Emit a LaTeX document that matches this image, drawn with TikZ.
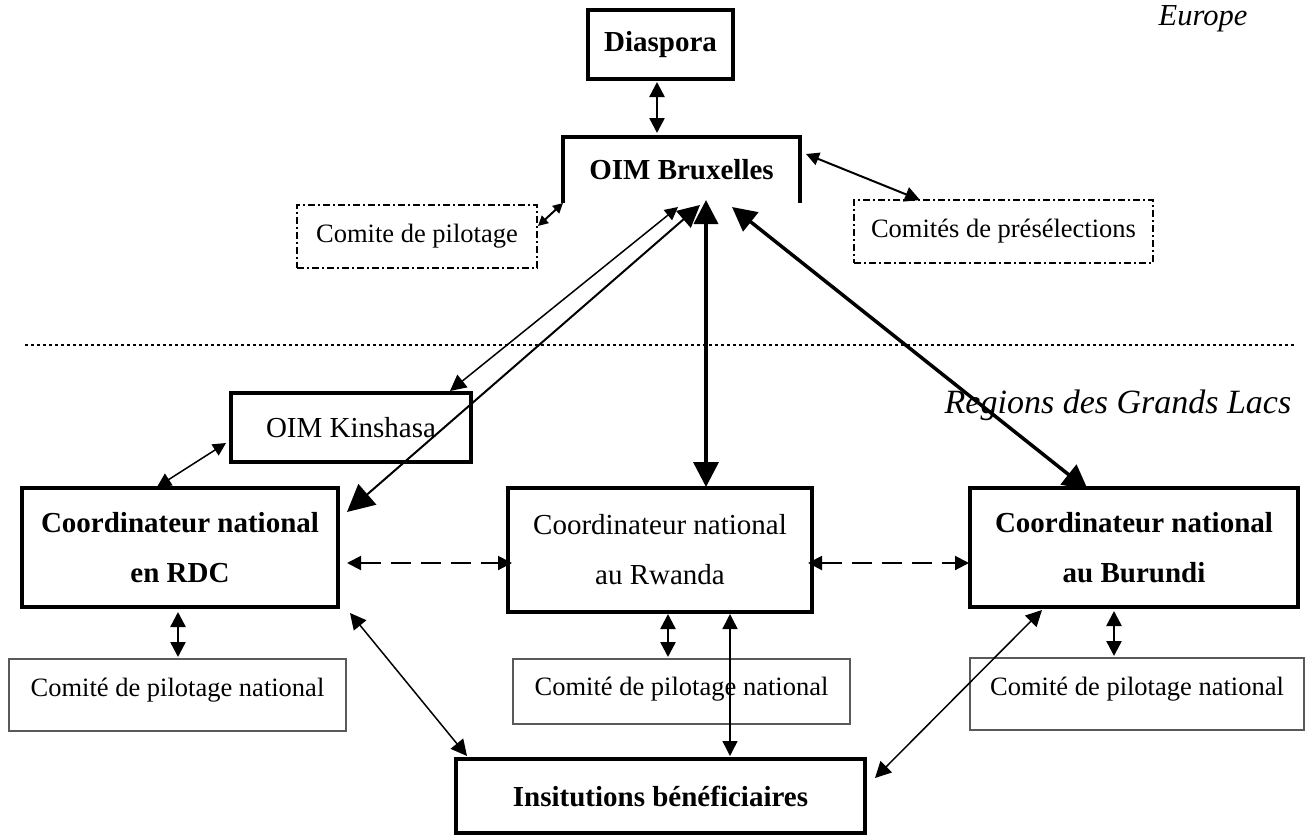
\documentclass[tikz,border=0pt]{standalone}
\usepackage{fontspec}
\setmainfont{Liberation Serif}
\usetikzlibrary{arrows.meta,calc}
\begin{document}
\begin{tikzpicture}[x=1pt,y=-1pt,
  box/.style={draw,line width=4pt,inner sep=0pt,outer sep=0pt,align=center,font=\fontsize{29}{50}\selectfont},
  bbox/.style={box,font=\bfseries\fontsize{29}{50}\selectfont},
  dashbox/.style={draw,line width=2pt,inner sep=0pt,outer sep=0pt,dash pattern=on 7pt off 3pt on 2pt off 3pt,font=\fontsize{26.5}{30}\selectfont},
  combox/.style={draw=black!65,line width=1.5pt,inner sep=0pt,outer sep=0pt,font=\fontsize{26.5}{30}\selectfont,text height=18pt,text depth=15pt},
  region/.style={font=\itshape\fontsize{30.5}{34}\selectfont,inner sep=0pt},
  dbl/.style 2 args={{Triangle[length=#1,width=#1]}-{Triangle[length=#2,width=#2]}}
]
\useasboundingbox (0,0) rectangle (1306,835);

% nodes
\node[bbox,minimum width=145pt,minimum height=69pt] (dia) at (660.5,44.5) {Diaspora};
\node[inner sep=0pt,outer sep=0pt,minimum width=237pt,minimum height=66pt,font=\bfseries\fontsize{29}{34}\selectfont] (brux) at (681.5,170) {OIM Bruxelles};
\draw[line width=4pt] (brux.south west) -- (brux.north west) -- (brux.north east) -- (brux.south east);
\node[dashbox,minimum width=240pt,minimum height=63pt] (pil) at (417,236) {Comite de pilotage};
\node[dashbox,minimum width=299pt,minimum height=63pt] (presel) at (1003.5,231.5) {Comités de présélections};
\node[box,minimum width=240pt,minimum height=69pt] (kin) at (351,427.5) {OIM Kinshasa};
\node[bbox,minimum width=316pt,minimum height=119pt] (rdc) at (180,547.5) {Coordinateur national\\en RDC};
\node[box,minimum width=304pt,minimum height=124pt] (rw) at (660,550) {Coordinateur national\\au Rwanda};
\node[bbox,minimum width=328pt,minimum height=119pt] (bur) at (1134,547.5) {Coordinateur national\\au Burundi};
\node[combox,minimum width=337pt,minimum height=72pt] (cl) at (177.5,695) {Comité de pilotage national};
\node[combox,minimum width=337pt,minimum height=65pt,text depth=10pt] (cm) at (681.5,691.5) {Comité de pilotage national};
\node[combox,minimum width=334pt,minimum height=72pt] (cr) at (1137,694) {Comité de pilotage national};
\node[bbox,minimum width=409pt,minimum height=74pt] (inst) at (660.5,796) {Insitutions bénéficiaires};

\node[region] (eu) at (1203,19) {Europe};
\node[region,font=\itshape\fontsize{34}{38}\selectfont] (gl) at (1118,405) {Regions des Grands Lacs};

% separator
\draw[line width=2pt,dash pattern=on 2.5pt off 3.5pt] (25,345) -- (1295,345);

% connectors
\draw[line width=2.5pt,dbl={15pt}{15pt}] ($(dia.south)+(-3.5,3)$) -- ($(brux.north)+(-24.5,-4)$);
\draw[line width=2pt,dbl={10pt}{10pt}] (brux.south west) -- ($(pil.east)+(1,-10)$);
\draw[line width=2pt,dbl={13pt}{15pt}] ($(brux.east)+(6,-16)$) -- ($(presel.north west)+(66,0)$);
\draw[line width=1.5pt,dbl={13pt}{16pt}] ($(brux.south)+(-3.5,4)$) -- ($(kin.north east)+(-21,-2)$);
\draw[line width=2pt,dbl={22pt}{27pt}] ($(brux.south)+(18.5,2)$) -- ($(rdc.north east)+(9,24)$);
\draw[line width=3.5pt,dbl={24pt}{25pt}] ($(brux.south)+(24.5,-3)$) -- ($(rw.north)+(46,-1)$);
\draw[line width=3.5pt,dbl={24pt}{25pt}] ($(brux.south)+(50.5,4)$) -- ($(bur.north)+(-46,2)$);
\draw[line width=1.5pt,dbl={13pt}{14pt}] ($(kin.west)+(-5,15.5)$) -- ($(rdc.north)+(-23,-1)$);
\draw[line width=2pt,dash pattern=on 20pt off 10pt,dbl={14pt}{14pt}] ($(rdc.east)+(9,15.5)$) -- ($(rw.west)+(4,13)$);
\draw[line width=2pt,dash pattern=on 20pt off 10pt,dbl={14pt}{14pt}] ($(rw.east)+(-4,13)$) -- ($(bur.west)+(-1,15.5)$);
\draw[line width=2.5pt,dbl={15pt}{15pt}] ($(rdc.south)+(-2,5)$) -- ($(cl.north)+(0.5,-2)$);
\draw[line width=2.5pt,dbl={15pt}{15pt}] ($(rw.south)+(8,2)$) -- ($(cm.north)+(-13.5,-2)$);
\draw[line width=1.5pt,dbl={15pt}{15pt}] ($(rw.south)+(70,2)$) -- ($(inst.north)+(69.5,-3)$);
\draw[line width=2.5pt,dbl={15pt}{15pt}] ($(bur.south)+(-20,4)$) -- ($(cr.north)+(-23,-2)$);
\draw[line width=1.5pt,dbl={16pt}{16pt}] ($(rdc.south east)+(12,6)$) -- ($(inst.north west)+(11,-3)$);
\draw[line width=1.5pt,dbl={16pt}{16pt}] ($(bur.south west)+(72,3)$) -- ($(inst.east)+(10,-18)$);
\end{tikzpicture}
\end{document}
